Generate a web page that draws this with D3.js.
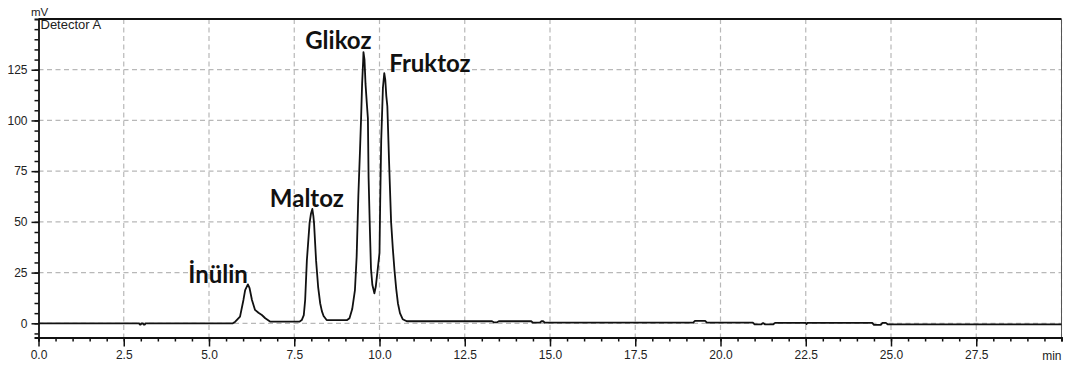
<!DOCTYPE html>
<html>
<head>
<meta charset="utf-8">
<script src="https://cdn.jsdelivr.net/npm/d3@7"></script>
<style>
  html, body { margin: 0; padding: 0; background: #fff; }
  svg { display: block; }
  .tick-label { font-family: "Liberation Sans", Arial, sans-serif; font-size: 12px; fill: #222; }
  .peak-label { font-family: Lato, "Open Sans", sans-serif; font-weight: 700; font-size: 24px; fill: #111; }
</style>
</head>
<body>
<svg id="chart" width="1072" height="371"></svg>
<script>
// Chromatogram trace: [retention time (min), detector signal (mV)]
const signal = [
  [0, 0], [2.95, 0], [2.97, -0.6], [3.0, -0.6], [3.02, 0], [3.06, 0], [3.08, -0.6], [3.12, -0.6], [3.14, 0],
  [5.70, 0], [5.77, 0.8], [5.91, 3.3], [6.01, 11.5], [6.06, 16.4], [6.14, 19.2], [6.19, 17.3],
  [6.26, 11.5], [6.35, 6.6], [6.45, 5.2], [6.55, 4.1], [6.65, 2.5], [6.80, 0.8],
  [7.65, 0.8], [7.72, 1.6], [7.78, 4], [7.82, 11.5], [7.87, 31], [7.95, 49.5], [7.99, 54], [8.03, 56.4],
  [8.06, 53], [8.08, 49.5], [8.14, 31], [8.20, 18], [8.26, 9.9], [8.31, 6], [8.36, 3.6], [8.45, 1.6],
  [9.05, 1.6], [9.12, 2.5], [9.20, 7], [9.28, 16.4], [9.33, 32.9], [9.38, 63], [9.43, 86], [9.46, 101],
  [9.49, 118], [9.52, 129], [9.53, 133.7], [9.56, 130], [9.59, 118], [9.63, 108], [9.66, 101],
  [9.68, 71.7], [9.72, 45], [9.75, 27], [9.79, 19], [9.85, 14.8], [9.89, 18], [9.95, 27], [10.0, 34.7],
  [10.02, 59], [10.05, 90], [10.10, 116], [10.14, 123.3], [10.17, 120], [10.20, 112], [10.23, 107],
  [10.28, 80], [10.34, 50], [10.39, 37], [10.44, 26], [10.49, 17], [10.54, 9.9], [10.60, 5],
  [10.68, 2], [10.80, 1.0],
  [13.30, 1.0], [13.35, 0.5], [13.45, 0.5], [13.50, 1.0], [14.45, 1.0], [14.50, 0.3], [14.70, 0.3],
  [14.75, 1.0], [14.80, 1.0], [14.85, 0.3],
  [19.20, 0.3], [19.25, 1.2], [19.55, 1.2], [19.60, 0.3],
  [20.95, 0.3], [21.0, -0.5], [21.20, -0.5], [21.25, 0.1], [21.30, -0.5], [21.55, -0.5], [21.60, 0.2],
  [22.50, 0.2], [22.52, -0.4], [22.55, 0.2], [24.45, 0.2], [24.50, -0.8], [24.70, -0.8], [24.75, 0.2],
  [24.85, 0.2], [24.90, -0.5], [30, -0.5]
];

// Named peaks with their label anchor (time, signal)
const peakNames = ["İnülin", "Maltoz", "Glikoz", "Fruktoz"];
const peakTimes = [6.14, 8.03, 9.53, 10.14];
const peakValues = [19.2, 56.4, 133.7, 123.3];

// Axis ticks
const xMajorTicks = [0, 2.5, 5, 7.5, 10, 12.5, 15, 17.5, 20, 22.5, 25, 27.5];
const xMinorTicks = d3.range(0, 30.01, 0.5);
const yMajorTicks = [0, 25, 50, 75, 100, 125];
const yMinorTicks = d3.range(-5, 150, 5);

const svg = d3.select("#chart");
const W = 1072, H = 371;
const margin = { left: 38.5, top: 19, right: 10.5, bottom: 33.5 };

const x = d3.scaleLinear().domain([0, 30]).range([margin.left, W - margin.right]);
const y = d3.scaleLinear().domain([-7, 150]).range([H - margin.bottom, margin.top]);

// dashed grid
const grid = svg.append("g").attr("stroke", "#b8b8b8").attr("stroke-width", 1.2)
  .attr("stroke-dasharray", "5,3.5");
grid.selectAll("line.v").data(xMajorTicks.filter(d => d > 0).concat([30])).join("line")
  .attr("x1", d => x(d)).attr("x2", d => x(d))
  .attr("y1", y.range()[1]).attr("y2", y.range()[0]);
grid.selectAll("line.h").data(yMajorTicks).join("line")
  .attr("x1", x.range()[0]).attr("x2", x.range()[1])
  .attr("y1", d => y(d)).attr("y2", d => y(d));

// frame: top and right
svg.append("line").attr("x1", x.range()[0]).attr("x2", x.range()[1])
  .attr("y1", y.range()[1]).attr("y2", y.range()[1])
  .attr("stroke", "#111").attr("stroke-width", 1.8);
svg.append("line").attr("x1", x.range()[1]).attr("x2", x.range()[1])
  .attr("y1", y.range()[1]).attr("y2", y.range()[0])
  .attr("stroke", "#555").attr("stroke-width", 1);

// trace
const line = d3.line().x(d => x(d[0])).y(d => y(d[1]));
svg.append("path").datum(signal).attr("d", line)
  .attr("fill", "none").attr("stroke", "#111").attr("stroke-width", 1.8)
  .attr("stroke-linejoin", "round");

// axes
const xAxisMinor = d3.axisBottom(x).tickValues(xMinorTicks).tickSize(4).tickFormat("");
const xAxisMajor = d3.axisBottom(x).tickValues(xMajorTicks).tickSize(9).tickPadding(4)
  .tickFormat(d3.format(".1f"));
const yAxisMinor = d3.axisLeft(y).tickValues(yMinorTicks).tickSize(4).tickFormat("");
const yAxisMajor = d3.axisLeft(y).tickValues(yMajorTicks).tickSize(7).tickPadding(4)
  .tickFormat(d3.format("d"));

function styleAxis(g) {
  g.select(".domain").attr("stroke", "#111").attr("stroke-width", 1.8);
  g.selectAll(".tick line").attr("stroke", "#111").attr("stroke-width", 1.5);
  g.selectAll(".tick text").attr("class", "tick-label").attr("fill", null);
  g.attr("font-family", null).attr("font-size", null);
}

const yOff = y.range()[0];
svg.append("g").attr("transform", `translate(0,${yOff})`).call(xAxisMinor).call(styleAxis);
svg.append("g").attr("transform", `translate(0,${yOff})`).call(xAxisMajor).call(styleAxis)
  .select(".domain").remove();
svg.append("g").attr("transform", `translate(${margin.left},0)`).call(yAxisMinor).call(styleAxis);
svg.append("g").attr("transform", `translate(${margin.left},0)`).call(yAxisMajor).call(styleAxis)
  .select(".domain").remove();

// axis units and detector name
svg.append("text").attr("class", "tick-label").attr("x", W - margin.right).attr("y", yOff + 22)
  .attr("text-anchor", "end").text("min");
svg.append("text").attr("class", "tick-label").attr("x", 31).attr("y", 16)
  .style("font-size", "11.5px").text("mV");
svg.append("text").attr("class", "tick-label").attr("x", margin.left + 2).attr("y", 29)
  .style("font-size", "13px").text("Detector A");

// peak labels, placed relative to each peak apex
const labelOffsets = [[0, -1], [-5.5, -2], [8, -3], [5, -1.5]];
const labelAnchors = ["end", "middle", "end", "start"];
svg.append("g").selectAll("text").data(peakNames).join("text")
  .attr("class", "peak-label")
  .attr("text-anchor", (d, i) => labelAnchors[i])
  .attr("x", (d, i) => x(peakTimes[i]) + labelOffsets[i][0])
  .attr("y", (d, i) => y(peakValues[i]) + labelOffsets[i][1])
  .text(d => d);
</script>
</body>
</html>
